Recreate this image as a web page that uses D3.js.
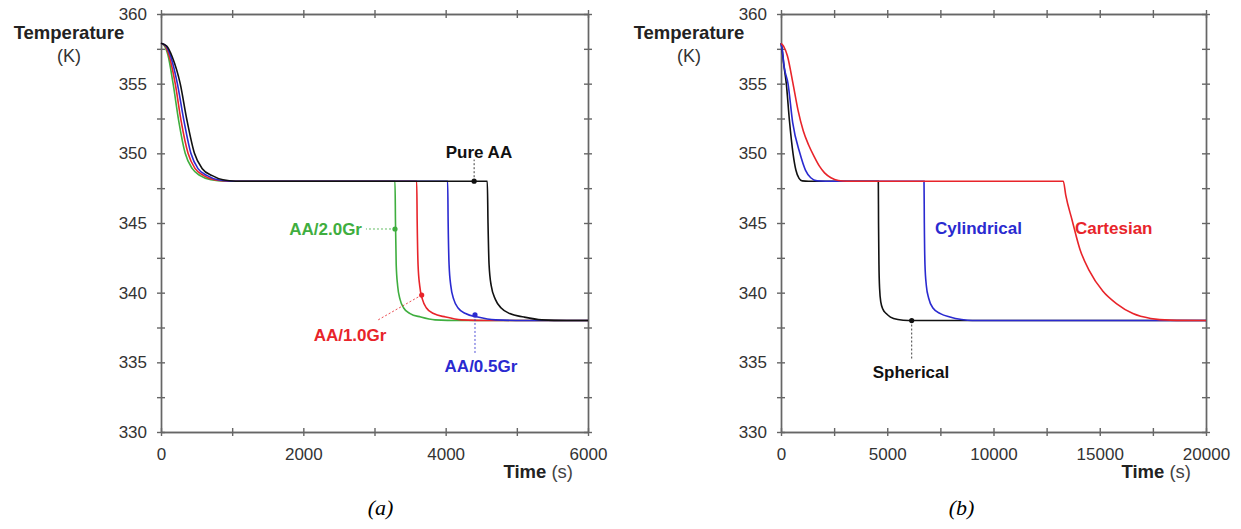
<!DOCTYPE html>
<html>
<head>
<meta charset="utf-8">
<script src="https://cdn.jsdelivr.net/npm/d3@7"></script>
<style>
  body { margin: 0; background: #fff; }
  svg { display: block; }
  .tick text { font-family: "Liberation Sans", Arial, sans-serif; fill: #333; }
</style>
</head>
<body>
<svg id="chart" width="1241" height="529"></svg>
<script>
// ---- data: [time (s), temperature (K)] ----
const pureAA = [[0,357.9],[80,357.7],[160,356.9],[270,355],[360,352.5],[470,350],[580,348.9],[720,348.4],[870,348.1],[1050,348],
  [4585,348],[4595,345],[4610,342],[4640,340.5],[4700,339.5],[4780,338.9],[4900,338.5],[5100,338.25],[5350,338.05],[5700,338],[6000,338]];
const aa05Gr = [[0,357.9],[70,357.7],[140,356.9],[230,355],[320,352.4],[420,350],[520,348.9],[650,348.4],[800,348.1],[1000,348],
  [4028,348],[4035,345],[4048,342],[4072,340.5],[4115,339.5],[4175,338.9],[4280,338.5],[4450,338.25],[4700,338.05],[5100,338],[6000,338]];
const aa10Gr = [[0,357.9],[60,357.7],[120,356.9],[200,355],[280,352.4],[380,350],[480,348.9],[600,348.4],[750,348.1],[950,348],
  [3593,348],[3600,345],[3612,342],[3635,340.5],[3675,339.5],[3730,338.9],[3830,338.5],[4000,338.25],[4220,338.05],[4600,338],[6000,338]];
const aa20Gr = [[0,357.9],[50,357.7],[100,357.0],[170,355],[250,352.3],[340,350],[440,348.9],[550,348.4],[700,348.1],[900,348],
  [3288,348],[3295,345],[3305,342],[3325,340.5],[3360,339.5],[3410,338.9],[3500,338.5],[3650,338.25],[3850,338.05],[4200,338],[6000,338]];

const cartesian = [[0,357.9],[120,357.7],[300,357],[565,355],[800,353.1],[1050,351.6],[1300,350.6],[1550,349.8],[1800,349.1],
  [2050,348.6],[2350,348.25],[2700,348.05],[3100,348],[13285,348],[13400,347],[13700,345.2],[14070,343.1],[14500,341.6],[15150,340.1],
  [15800,339.2],[16560,338.5],[17400,338.15],[18300,338.03],[20000,338]];
const cylindrical = [[0,357.9],[60,357.4],[150,356.2],[330,355],[550,352.2],[890,350],[1150,348.8],[1400,348.25],[1700,348.03],[2100,348],
  [6730,348],[6745,345],[6775,342],[6840,340.5],[6950,339.6],[7150,338.9],[7500,338.5],[7950,338.25],[8500,338.07],[9000,338],[20000,338]];
const spherical = [[0,357.9],[50,357.5],[120,356.5],[250,355],[400,352.3],[565,350],[700,348.8],[850,348.2],[1000,348.02],[1300,348],
  [4580,348],[4590,345],[4610,342],[4640,340.3],[4700,339.3],[4800,338.8],[4950,338.5],[5150,338.25],[5500,338.07],[6000,338],[20000,338]];

const tempTicks = [330, 335, 340, 345, 350, 355, 360];
const tempMinor = [332.5, 337.5, 342.5, 347.5, 352.5, 357.5];
const timeTicksA = [0, 2000, 4000, 6000];
const timeMinorA = [1000, 3000, 5000];
const timeTicksB = [0, 5000, 10000, 15000, 20000];
const timeMinorB = [2500, 7500, 12500, 17500];

// labels: dot at (t, T), text at (tx, tT), leader line end at (lt, lT)
const labelsA = [
  { text: "Pure AA",  color: "#111",    t: 4400, T: 348,    tx: 4468, tT: 349.7,  anchor: "middle", lt: 4400, lT: 349.55 },
  { text: "AA/2.0Gr", color: "#3fae3f", t: 3288, T: 344.57, tx: 2824, tT: 344.14, anchor: "end",    lt: 2880, lT: 344.57 },
  { text: "AA/1.0Gr", color: "#e8242a", t: 3663, T: 339.83, tx: 2656, tT: 336.53, anchor: "middle", lt: 3049, lT: 338.04 },
  { text: "AA/0.5Gr", color: "#2a2ad0", t: 4412, T: 338.4,  tx: 4496, tT: 334.3,  anchor: "middle", lt: 4412, lT: 335.53 }
];
const labelsB = [
  { text: "Cylindrical", color: "#2a2ad0", tx: 7247,  tT: 344.21, anchor: "start" },
  { text: "Cartesian",   color: "#e8242a", tx: 13835, tT: 344.21, anchor: "start" },
  { text: "Spherical",   color: "#111",    t: 6150, T: 338, tx: 6118, tT: 333.87, anchor: "middle", lt: 6150, lT: 335.24 }
];

const svg = d3.select("#chart");
const font = '"Liberation Sans", Arial, sans-serif';

function drawPanel(opt) {
  const g = svg.append("g");
  const x = d3.scaleLinear().domain(opt.xDomain).range(opt.xRange);
  const y = d3.scaleLinear().domain([330, 360]).range([432, 14]);
  const allX = opt.xTicks.concat(opt.xMinor);
  const allY = tempTicks.concat(tempMinor);
  const x0 = opt.xRange[0], x1 = opt.xRange[1];

  // bottom axis with labels (outward ticks) + inward ticks
  g.append("g").attr("transform", "translate(0,432)")
    .call(d3.axisBottom(x).tickValues(allX).tickSize(4).tickSizeOuter(0).tickPadding(12)
      .tickFormat(d => opt.xTicks.includes(d) ? d : ""));
  g.append("g").attr("transform", "translate(0,432)")
    .call(d3.axisBottom(x).tickValues(allX).tickSize(-4).tickSizeOuter(0).tickFormat(""));
  // top border
  g.append("g").attr("transform", "translate(0,14)")
    .call(d3.axisTop(x).tickValues(allX).tickSize(4).tickSizeOuter(0).tickFormat(""));
  g.append("g").attr("transform", "translate(0,14)")
    .call(d3.axisTop(x).tickValues(allX).tickSize(-4).tickSizeOuter(0).tickFormat(""));
  // left axis with labels
  g.append("g").attr("transform", `translate(${x0},0)`)
    .call(d3.axisLeft(y).tickValues(allY).tickSize(4).tickSizeOuter(0).tickPadding(10)
      .tickFormat(d => tempTicks.includes(d) ? d : ""));
  g.append("g").attr("transform", `translate(${x0},0)`)
    .call(d3.axisLeft(y).tickValues(allY).tickSize(-4).tickSizeOuter(0).tickFormat(""));
  // right border
  g.append("g").attr("transform", `translate(${x1},0)`)
    .call(d3.axisRight(y).tickValues(allY).tickSize(4).tickSizeOuter(0).tickFormat(""));
  g.append("g").attr("transform", `translate(${x1},0)`)
    .call(d3.axisRight(y).tickValues(allY).tickSize(-4).tickSizeOuter(0).tickFormat(""));

  g.selectAll(".domain, .tick line").attr("stroke", "#666").attr("stroke-width", 1.4);
  g.selectAll(".tick text").attr("font-size", 17).attr("fill", "#333");

  // curves
  const line = d3.line().x(d => x(d[0])).y(d => y(d[1])).curve(d3.curveMonotoneX);
  opt.series.forEach(s => {
    g.append("path").attr("d", line(s.data)).attr("fill", "none")
      .attr("stroke", s.color).attr("stroke-width", 1.6);
  });

  // annotations
  opt.labels.forEach(l => {
    if (l.t !== undefined) {
      g.append("line").attr("x1", x(l.t)).attr("y1", y(l.T)).attr("x2", x(l.lt)).attr("y2", y(l.lT))
        .attr("stroke", l.color).attr("stroke-width", 1).attr("stroke-dasharray", "2,2").attr("opacity", 0.8);
      g.append("circle").attr("cx", x(l.t)).attr("cy", y(l.T)).attr("r", 2.6).attr("fill", l.color);
    }
    g.append("text").attr("x", x(l.tx)).attr("y", y(l.tT)).attr("text-anchor", l.anchor)
      .attr("font-family", font).attr("font-size", 17).attr("font-weight", "bold")
      .attr("fill", l.color).text(l.text);
  });

  // y label
  const cx = x0 - 92;
  g.append("text").attr("x", cx).attr("y", 39).attr("text-anchor", "middle")
    .attr("font-family", font).attr("font-size", 18.5).attr("font-weight", "bold").attr("fill", "#222")
    .text("Temperature");
  g.append("text").attr("x", cx).attr("y", 62).attr("text-anchor", "middle")
    .attr("font-family", font).attr("font-size", 18).attr("fill", "#333").text("(K)");

  // x label
  const xl = g.append("text").attr("x", x1 - 15).attr("y", 478).attr("text-anchor", "end")
    .attr("font-family", font).attr("font-size", 18.5).attr("fill", "#222");
  xl.append("tspan").attr("font-weight", "bold").text("Time");
  xl.append("tspan").attr("fill", "#444").text(" (s)");

  // panel caption
  g.append("text").attr("x", (x0 + x1) / 2 + opt.capShift).attr("y", 515).attr("text-anchor", "middle")
    .attr("font-family", '"Liberation Serif", "Times New Roman", serif').attr("font-style", "italic")
    .attr("font-size", 22).attr("fill", "#000").text(opt.caption);
}

drawPanel({
  xDomain: [0, 6000], xRange: [161, 588],
  xTicks: timeTicksA, xMinor: timeMinorA,
  series: [
    { data: aa20Gr, color: "#3fae3f" },
    { data: aa10Gr, color: "#e8242a" },
    { data: aa05Gr, color: "#2a2ad0" },
    { data: pureAA, color: "#111" }
  ],
  labels: labelsA, caption: "(a)", capShift: 6
});

drawPanel({
  xDomain: [0, 20000], xRange: [781, 1206],
  xTicks: timeTicksB, xMinor: timeMinorB,
  series: [
    { data: spherical, color: "#111" },
    { data: cylindrical, color: "#2a2ad0" },
    { data: cartesian, color: "#e8242a" }
  ],
  labels: labelsB, caption: "(b)", capShift: -32
});
</script>
</body>
</html>
